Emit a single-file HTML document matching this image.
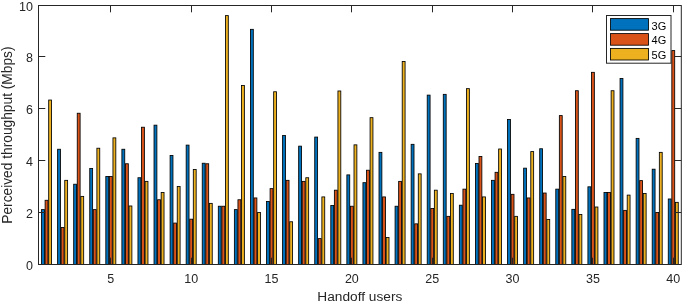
<!DOCTYPE html>
<html><head><meta charset="utf-8"><style>
html,body{margin:0;padding:0;background:#fff;}
body{width:685px;height:303px;overflow:hidden;}
svg{display:block;will-change:transform;font-family:"Liberation Sans",sans-serif;}
</style></head><body>
<svg width="685" height="303" viewBox="0 0 685 303">
<rect x="0" y="0" width="685" height="303" fill="#fff"/>
<g>
<rect x="41.54" y="209.60" width="2.86" height="54.90" fill="#0072BD" stroke="#000" stroke-width="0.85"/>
<rect x="57.61" y="149.25" width="2.86" height="115.25" fill="#0072BD" stroke="#000" stroke-width="0.85"/>
<rect x="73.68" y="184.22" width="2.86" height="80.28" fill="#0072BD" stroke="#000" stroke-width="0.85"/>
<rect x="89.75" y="168.42" width="2.86" height="96.08" fill="#0072BD" stroke="#000" stroke-width="0.85"/>
<rect x="105.82" y="176.45" width="2.86" height="88.05" fill="#0072BD" stroke="#000" stroke-width="0.85"/>
<rect x="121.89" y="149.25" width="2.86" height="115.25" fill="#0072BD" stroke="#000" stroke-width="0.85"/>
<rect x="137.96" y="177.74" width="2.86" height="86.76" fill="#0072BD" stroke="#000" stroke-width="0.85"/>
<rect x="154.03" y="125.17" width="2.86" height="139.33" fill="#0072BD" stroke="#000" stroke-width="0.85"/>
<rect x="170.10" y="155.47" width="2.86" height="109.03" fill="#0072BD" stroke="#000" stroke-width="0.85"/>
<rect x="186.17" y="145.11" width="2.86" height="119.39" fill="#0072BD" stroke="#000" stroke-width="0.85"/>
<rect x="202.24" y="163.24" width="2.86" height="101.26" fill="#0072BD" stroke="#000" stroke-width="0.85"/>
<rect x="218.31" y="206.23" width="2.86" height="58.27" fill="#0072BD" stroke="#000" stroke-width="0.85"/>
<rect x="234.38" y="209.60" width="2.86" height="54.90" fill="#0072BD" stroke="#000" stroke-width="0.85"/>
<rect x="250.45" y="29.34" width="2.86" height="235.16" fill="#0072BD" stroke="#000" stroke-width="0.85"/>
<rect x="266.52" y="201.57" width="2.86" height="62.93" fill="#0072BD" stroke="#000" stroke-width="0.85"/>
<rect x="282.59" y="135.53" width="2.86" height="128.97" fill="#0072BD" stroke="#000" stroke-width="0.85"/>
<rect x="298.66" y="146.15" width="2.86" height="118.35" fill="#0072BD" stroke="#000" stroke-width="0.85"/>
<rect x="314.73" y="137.08" width="2.86" height="127.42" fill="#0072BD" stroke="#000" stroke-width="0.85"/>
<rect x="330.80" y="205.46" width="2.86" height="59.04" fill="#0072BD" stroke="#000" stroke-width="0.85"/>
<rect x="346.87" y="174.89" width="2.86" height="89.61" fill="#0072BD" stroke="#000" stroke-width="0.85"/>
<rect x="362.94" y="182.67" width="2.86" height="81.83" fill="#0072BD" stroke="#000" stroke-width="0.85"/>
<rect x="379.01" y="152.36" width="2.86" height="112.14" fill="#0072BD" stroke="#000" stroke-width="0.85"/>
<rect x="395.08" y="206.23" width="2.86" height="58.27" fill="#0072BD" stroke="#000" stroke-width="0.85"/>
<rect x="411.15" y="144.33" width="2.86" height="120.17" fill="#0072BD" stroke="#000" stroke-width="0.85"/>
<rect x="427.22" y="95.12" width="2.86" height="169.38" fill="#0072BD" stroke="#000" stroke-width="0.85"/>
<rect x="443.29" y="94.35" width="2.86" height="170.15" fill="#0072BD" stroke="#000" stroke-width="0.85"/>
<rect x="459.36" y="205.20" width="2.86" height="59.30" fill="#0072BD" stroke="#000" stroke-width="0.85"/>
<rect x="475.43" y="163.50" width="2.86" height="101.00" fill="#0072BD" stroke="#000" stroke-width="0.85"/>
<rect x="491.50" y="180.33" width="2.86" height="84.17" fill="#0072BD" stroke="#000" stroke-width="0.85"/>
<rect x="507.57" y="119.47" width="2.86" height="145.03" fill="#0072BD" stroke="#000" stroke-width="0.85"/>
<rect x="523.64" y="168.16" width="2.86" height="96.34" fill="#0072BD" stroke="#000" stroke-width="0.85"/>
<rect x="539.71" y="148.74" width="2.86" height="115.76" fill="#0072BD" stroke="#000" stroke-width="0.85"/>
<rect x="555.78" y="189.14" width="2.86" height="75.36" fill="#0072BD" stroke="#000" stroke-width="0.85"/>
<rect x="571.85" y="209.34" width="2.86" height="55.16" fill="#0072BD" stroke="#000" stroke-width="0.85"/>
<rect x="587.92" y="186.81" width="2.86" height="77.69" fill="#0072BD" stroke="#000" stroke-width="0.85"/>
<rect x="603.99" y="192.51" width="2.86" height="71.99" fill="#0072BD" stroke="#000" stroke-width="0.85"/>
<rect x="620.06" y="78.55" width="2.86" height="185.95" fill="#0072BD" stroke="#000" stroke-width="0.85"/>
<rect x="636.13" y="138.38" width="2.86" height="126.12" fill="#0072BD" stroke="#000" stroke-width="0.85"/>
<rect x="652.20" y="169.20" width="2.86" height="95.30" fill="#0072BD" stroke="#000" stroke-width="0.85"/>
<rect x="668.27" y="198.98" width="2.86" height="65.52" fill="#0072BD" stroke="#000" stroke-width="0.85"/>
<rect x="45.11" y="200.28" width="2.86" height="64.22" fill="#D95319" stroke="#000" stroke-width="0.85"/>
<rect x="61.18" y="227.47" width="2.86" height="37.03" fill="#D95319" stroke="#000" stroke-width="0.85"/>
<rect x="77.25" y="113.25" width="2.86" height="151.25" fill="#D95319" stroke="#000" stroke-width="0.85"/>
<rect x="93.32" y="209.60" width="2.86" height="54.90" fill="#D95319" stroke="#000" stroke-width="0.85"/>
<rect x="109.39" y="176.45" width="2.86" height="88.05" fill="#D95319" stroke="#000" stroke-width="0.85"/>
<rect x="125.46" y="163.76" width="2.86" height="100.74" fill="#D95319" stroke="#000" stroke-width="0.85"/>
<rect x="141.53" y="127.24" width="2.86" height="137.26" fill="#D95319" stroke="#000" stroke-width="0.85"/>
<rect x="157.60" y="199.76" width="2.86" height="64.74" fill="#D95319" stroke="#000" stroke-width="0.85"/>
<rect x="173.67" y="223.07" width="2.86" height="41.43" fill="#D95319" stroke="#000" stroke-width="0.85"/>
<rect x="189.74" y="219.18" width="2.86" height="45.32" fill="#D95319" stroke="#000" stroke-width="0.85"/>
<rect x="205.81" y="163.76" width="2.86" height="100.74" fill="#D95319" stroke="#000" stroke-width="0.85"/>
<rect x="221.88" y="206.23" width="2.86" height="58.27" fill="#D95319" stroke="#000" stroke-width="0.85"/>
<rect x="237.95" y="199.76" width="2.86" height="64.74" fill="#D95319" stroke="#000" stroke-width="0.85"/>
<rect x="254.02" y="197.95" width="2.86" height="66.55" fill="#D95319" stroke="#000" stroke-width="0.85"/>
<rect x="270.09" y="188.62" width="2.86" height="75.88" fill="#D95319" stroke="#000" stroke-width="0.85"/>
<rect x="286.16" y="180.33" width="2.86" height="84.17" fill="#D95319" stroke="#000" stroke-width="0.85"/>
<rect x="302.23" y="181.37" width="2.86" height="83.13" fill="#D95319" stroke="#000" stroke-width="0.85"/>
<rect x="318.30" y="238.61" width="2.86" height="25.89" fill="#D95319" stroke="#000" stroke-width="0.85"/>
<rect x="334.37" y="190.18" width="2.86" height="74.32" fill="#D95319" stroke="#000" stroke-width="0.85"/>
<rect x="350.44" y="206.23" width="2.86" height="58.27" fill="#D95319" stroke="#000" stroke-width="0.85"/>
<rect x="366.51" y="170.23" width="2.86" height="94.27" fill="#D95319" stroke="#000" stroke-width="0.85"/>
<rect x="382.58" y="196.91" width="2.86" height="67.59" fill="#D95319" stroke="#000" stroke-width="0.85"/>
<rect x="398.65" y="181.37" width="2.86" height="83.13" fill="#D95319" stroke="#000" stroke-width="0.85"/>
<rect x="414.72" y="223.85" width="2.86" height="40.65" fill="#D95319" stroke="#000" stroke-width="0.85"/>
<rect x="430.79" y="208.56" width="2.86" height="55.94" fill="#D95319" stroke="#000" stroke-width="0.85"/>
<rect x="446.86" y="216.34" width="2.86" height="48.16" fill="#D95319" stroke="#000" stroke-width="0.85"/>
<rect x="462.93" y="189.14" width="2.86" height="75.36" fill="#D95319" stroke="#000" stroke-width="0.85"/>
<rect x="479.00" y="156.51" width="2.86" height="107.99" fill="#D95319" stroke="#000" stroke-width="0.85"/>
<rect x="495.07" y="172.31" width="2.86" height="92.19" fill="#D95319" stroke="#000" stroke-width="0.85"/>
<rect x="511.14" y="194.32" width="2.86" height="70.18" fill="#D95319" stroke="#000" stroke-width="0.85"/>
<rect x="527.21" y="197.95" width="2.86" height="66.55" fill="#D95319" stroke="#000" stroke-width="0.85"/>
<rect x="543.28" y="193.03" width="2.86" height="71.47" fill="#D95319" stroke="#000" stroke-width="0.85"/>
<rect x="559.35" y="115.58" width="2.86" height="148.92" fill="#D95319" stroke="#000" stroke-width="0.85"/>
<rect x="575.42" y="90.72" width="2.86" height="173.78" fill="#D95319" stroke="#000" stroke-width="0.85"/>
<rect x="591.49" y="72.33" width="2.86" height="192.17" fill="#D95319" stroke="#000" stroke-width="0.85"/>
<rect x="607.56" y="192.51" width="2.86" height="71.99" fill="#D95319" stroke="#000" stroke-width="0.85"/>
<rect x="623.63" y="210.38" width="2.86" height="54.12" fill="#D95319" stroke="#000" stroke-width="0.85"/>
<rect x="639.70" y="180.59" width="2.86" height="83.91" fill="#D95319" stroke="#000" stroke-width="0.85"/>
<rect x="655.77" y="212.45" width="2.86" height="52.05" fill="#D95319" stroke="#000" stroke-width="0.85"/>
<rect x="671.84" y="50.58" width="2.86" height="213.92" fill="#D95319" stroke="#000" stroke-width="0.85"/>
<rect x="48.68" y="100.04" width="2.86" height="164.46" fill="#EDB120" stroke="#000" stroke-width="0.85"/>
<rect x="64.75" y="180.33" width="2.86" height="84.17" fill="#EDB120" stroke="#000" stroke-width="0.85"/>
<rect x="80.82" y="196.39" width="2.86" height="68.11" fill="#EDB120" stroke="#000" stroke-width="0.85"/>
<rect x="96.89" y="148.22" width="2.86" height="116.28" fill="#EDB120" stroke="#000" stroke-width="0.85"/>
<rect x="112.96" y="137.86" width="2.86" height="126.64" fill="#EDB120" stroke="#000" stroke-width="0.85"/>
<rect x="129.03" y="205.97" width="2.86" height="58.53" fill="#EDB120" stroke="#000" stroke-width="0.85"/>
<rect x="145.10" y="181.37" width="2.86" height="83.13" fill="#EDB120" stroke="#000" stroke-width="0.85"/>
<rect x="161.17" y="192.51" width="2.86" height="71.99" fill="#EDB120" stroke="#000" stroke-width="0.85"/>
<rect x="177.24" y="186.55" width="2.86" height="77.95" fill="#EDB120" stroke="#000" stroke-width="0.85"/>
<rect x="193.31" y="169.46" width="2.86" height="95.04" fill="#EDB120" stroke="#000" stroke-width="0.85"/>
<rect x="209.38" y="203.38" width="2.86" height="61.12" fill="#EDB120" stroke="#000" stroke-width="0.85"/>
<rect x="225.45" y="15.61" width="2.86" height="248.89" fill="#EDB120" stroke="#000" stroke-width="0.85"/>
<rect x="241.52" y="85.54" width="2.86" height="178.96" fill="#EDB120" stroke="#000" stroke-width="0.85"/>
<rect x="257.59" y="212.45" width="2.86" height="52.05" fill="#EDB120" stroke="#000" stroke-width="0.85"/>
<rect x="273.66" y="91.76" width="2.86" height="172.74" fill="#EDB120" stroke="#000" stroke-width="0.85"/>
<rect x="289.73" y="221.77" width="2.86" height="42.73" fill="#EDB120" stroke="#000" stroke-width="0.85"/>
<rect x="305.80" y="177.74" width="2.86" height="86.76" fill="#EDB120" stroke="#000" stroke-width="0.85"/>
<rect x="321.87" y="196.91" width="2.86" height="67.59" fill="#EDB120" stroke="#000" stroke-width="0.85"/>
<rect x="337.94" y="90.98" width="2.86" height="173.52" fill="#EDB120" stroke="#000" stroke-width="0.85"/>
<rect x="354.01" y="144.85" width="2.86" height="119.65" fill="#EDB120" stroke="#000" stroke-width="0.85"/>
<rect x="370.08" y="117.66" width="2.86" height="146.84" fill="#EDB120" stroke="#000" stroke-width="0.85"/>
<rect x="386.15" y="237.57" width="2.86" height="26.93" fill="#EDB120" stroke="#000" stroke-width="0.85"/>
<rect x="402.22" y="61.45" width="2.86" height="203.05" fill="#EDB120" stroke="#000" stroke-width="0.85"/>
<rect x="418.29" y="173.86" width="2.86" height="90.64" fill="#EDB120" stroke="#000" stroke-width="0.85"/>
<rect x="434.36" y="190.18" width="2.86" height="74.32" fill="#EDB120" stroke="#000" stroke-width="0.85"/>
<rect x="450.43" y="193.54" width="2.86" height="70.96" fill="#EDB120" stroke="#000" stroke-width="0.85"/>
<rect x="466.50" y="88.65" width="2.86" height="175.85" fill="#EDB120" stroke="#000" stroke-width="0.85"/>
<rect x="482.57" y="196.91" width="2.86" height="67.59" fill="#EDB120" stroke="#000" stroke-width="0.85"/>
<rect x="498.64" y="149.00" width="2.86" height="115.50" fill="#EDB120" stroke="#000" stroke-width="0.85"/>
<rect x="514.71" y="216.34" width="2.86" height="48.16" fill="#EDB120" stroke="#000" stroke-width="0.85"/>
<rect x="530.78" y="151.59" width="2.86" height="112.91" fill="#EDB120" stroke="#000" stroke-width="0.85"/>
<rect x="546.85" y="219.44" width="2.86" height="45.06" fill="#EDB120" stroke="#000" stroke-width="0.85"/>
<rect x="562.92" y="176.45" width="2.86" height="88.05" fill="#EDB120" stroke="#000" stroke-width="0.85"/>
<rect x="578.99" y="214.52" width="2.86" height="49.98" fill="#EDB120" stroke="#000" stroke-width="0.85"/>
<rect x="595.06" y="207.01" width="2.86" height="57.49" fill="#EDB120" stroke="#000" stroke-width="0.85"/>
<rect x="611.13" y="90.72" width="2.86" height="173.78" fill="#EDB120" stroke="#000" stroke-width="0.85"/>
<rect x="627.20" y="195.10" width="2.86" height="69.40" fill="#EDB120" stroke="#000" stroke-width="0.85"/>
<rect x="643.27" y="193.54" width="2.86" height="70.96" fill="#EDB120" stroke="#000" stroke-width="0.85"/>
<rect x="659.34" y="152.36" width="2.86" height="112.14" fill="#EDB120" stroke="#000" stroke-width="0.85"/>
<rect x="675.41" y="202.35" width="2.86" height="62.15" fill="#EDB120" stroke="#000" stroke-width="0.85"/>
</g>
<g stroke="#262626" stroke-width="1" fill="none">
<rect x="38.5" y="5.5" width="642.8" height="259.0"/>
<line x1="38.5" y1="212.50" x2="45.30" y2="212.50"/>
<line x1="681.3" y1="212.50" x2="674.50" y2="212.50"/>
<line x1="38.5" y1="160.50" x2="45.30" y2="160.50"/>
<line x1="681.3" y1="160.50" x2="674.50" y2="160.50"/>
<line x1="38.5" y1="108.50" x2="45.30" y2="108.50"/>
<line x1="681.3" y1="108.50" x2="674.50" y2="108.50"/>
<line x1="38.5" y1="56.50" x2="45.30" y2="56.50"/>
<line x1="681.3" y1="56.50" x2="674.50" y2="56.50"/>
<line x1="110.50" y1="264.5" x2="110.50" y2="257.70"/>
<line x1="110.50" y1="5.5" x2="110.50" y2="12.30"/>
<line x1="191.50" y1="264.5" x2="191.50" y2="257.70"/>
<line x1="191.50" y1="5.5" x2="191.50" y2="12.30"/>
<line x1="271.50" y1="264.5" x2="271.50" y2="257.70"/>
<line x1="271.50" y1="5.5" x2="271.50" y2="12.30"/>
<line x1="351.50" y1="264.5" x2="351.50" y2="257.70"/>
<line x1="351.50" y1="5.5" x2="351.50" y2="12.30"/>
<line x1="432.50" y1="264.5" x2="432.50" y2="257.70"/>
<line x1="432.50" y1="5.5" x2="432.50" y2="12.30"/>
<line x1="512.50" y1="264.5" x2="512.50" y2="257.70"/>
<line x1="512.50" y1="5.5" x2="512.50" y2="12.30"/>
<line x1="592.50" y1="264.5" x2="592.50" y2="257.70"/>
<line x1="592.50" y1="5.5" x2="592.50" y2="12.30"/>
<line x1="673.50" y1="264.5" x2="673.50" y2="257.70"/>
<line x1="673.50" y1="5.5" x2="673.50" y2="12.30"/>
</g>
<g fill="#262626" font-size="12.5px">
<text x="32.9" y="269.50" text-anchor="end">0</text>
<text x="32.9" y="217.70" text-anchor="end">2</text>
<text x="32.9" y="165.90" text-anchor="end">4</text>
<text x="32.9" y="114.10" text-anchor="end">6</text>
<text x="32.9" y="62.30" text-anchor="end">8</text>
<text x="32.9" y="10.50" text-anchor="end">10</text>
<text x="110.81" y="282.6" text-anchor="middle">5</text>
<text x="191.16" y="282.6" text-anchor="middle">10</text>
<text x="271.51" y="282.6" text-anchor="middle">15</text>
<text x="351.87" y="282.6" text-anchor="middle">20</text>
<text x="432.22" y="282.6" text-anchor="middle">25</text>
<text x="512.57" y="282.6" text-anchor="middle">30</text>
<text x="592.91" y="282.6" text-anchor="middle">35</text>
<text x="673.26" y="282.6" text-anchor="middle">40</text>
</g>
<text x="359.8" y="301" text-anchor="middle" fill="#262626" font-size="13.7px">Handoff users</text>
<text transform="translate(11.5,135.1) rotate(-90)" text-anchor="middle" fill="#262626" font-size="13.75px">Perceived throughput (Mbps)</text>
<g>
<rect x="606.5" y="15.5" width="64.5" height="47.7" fill="#fff" stroke="#262626" stroke-width="1"/>
<rect x="610.5" y="18.6" width="38" height="11.6" fill="#0072BD" stroke="#000" stroke-width="0.85"/>
<rect x="610.5" y="33.6" width="38" height="11.6" fill="#D95319" stroke="#000" stroke-width="0.85"/>
<rect x="610.5" y="48.4" width="38" height="11.6" fill="#EDB120" stroke="#000" stroke-width="0.85"/>
<g fill="#000" font-size="11px">
<text x="651.6" y="29.8">3G</text>
<text x="651.6" y="44.2">4G</text>
<text x="651.6" y="58.7">5G</text>
</g>
</g>
</svg>
</body></html>
